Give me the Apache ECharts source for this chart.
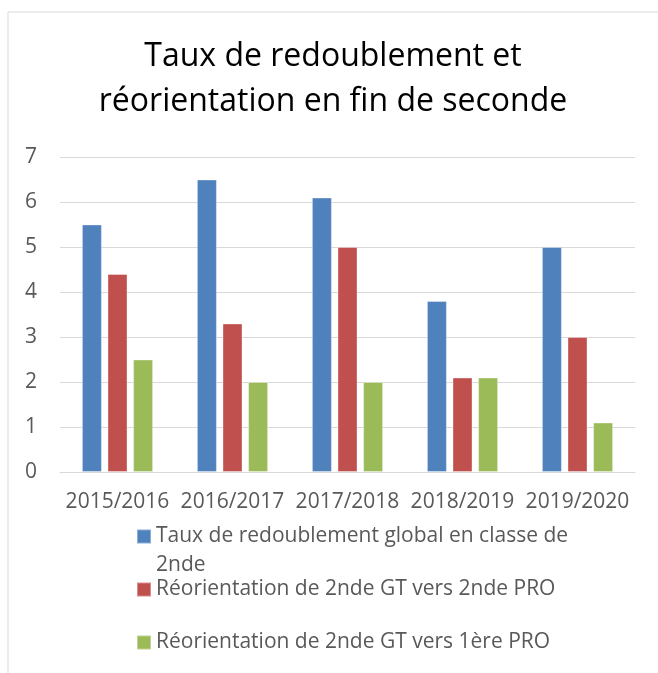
<!DOCTYPE html>
<html>
<head>
<meta charset="utf-8">
<script src="https://cdn.jsdelivr.net/npm/echarts@6/dist/echarts.min.js"></script>
<style>
  html, body { margin: 0; padding: 0; background: #fff; }
  #chart { width: 658px; height: 673px; }
</style>
</head>
<body>
<div id="chart"></div>
<script>
var years = ['2015/2016', '2016/2017', '2017/2018', '2018/2019', '2019/2020'];
var seriesNames = [
  'Taux de redoublement global en classe de 2nde',
  'Réorientation de 2nde GT vers 2nde PRO',
  'Réorientation de 2nde GT vers 1ère PRO'
];
var redoublement = [5.5, 6.5, 6.1, 3.8, 5.0];
var versSecondePro = [4.4, 3.3, 5.0, 2.1, 3.0];
var versPremierePro = [2.5, 2.0, 2.0, 2.1, 1.1];
var colors = ['#4F81BD', '#C0504D', '#9BBB59'];

// legend text as Excel wraps it (blank first line keeps the square on the first line)
var legendLabels = {};
legendLabels[seriesNames[0]] = '\nTaux de redoublement global en classe de\n2nde';
legendLabels[seriesNames[1]] = '\nRéorientation de 2nde GT vers 2nde PRO\n';
legendLabels[seriesNames[2]] = '\nRéorientation de 2nde GT vers 1ère PRO\n';

var font = '"Open Sans", "Noto Sans", sans-serif';

function makeSeries(name, data, color) {
  return {
    name: name,
    type: 'bar',
    data: data,
    barWidth: 20,
    barGap: '28%',
    itemStyle: { color: color, borderColor: 'rgba(255,255,255,0.35)', borderWidth: 1 }
  };
}

var chart = echarts.init(document.getElementById('chart'));
chart.setOption({
  animation: false,
  textStyle: { fontFamily: font },
  graphic: [{
    type: 'rect',
    shape: { x: 8, y: 12, width: 720, height: 720 },
    style: { fill: 'none', stroke: '#d9d9d9', lineWidth: 1 },
    silent: true
  }],
  title: {
    text: 'Taux de redoublement et\nréorientation en fin de seconde',
    left: 333,
    textAlign: 'center',
    top: 34,
    padding: 0,
    textStyle: { fontFamily: font, fontSize: 32, fontWeight: 'normal', color: '#000', lineHeight: 45 }
  },
  legend: {
    orient: 'vertical',
    left: 136,
    top: 493,
    height: 300,
    padding: 0,
    itemGap: -34,
    itemWidth: 14,
    itemHeight: 14,
    icon: 'rect',
    data: seriesNames,
    formatter: function (name) { return legendLabels[name]; },
    textStyle: { fontFamily: font, fontSize: 21, color: '#595959', lineHeight: 29 }
  },
  grid: { left: 60, right: 23, top: 157, bottom: 201, containLabel: false },
  xAxis: {
    type: 'category',
    data: years,
    axisTick: { show: false },
    axisLine: { lineStyle: { color: '#d9d9d9', width: 1 } },
    axisLabel: { interval: 0, hideOverlap: false, fontFamily: font, fontSize: 21, color: '#595959', margin: 20 }
  },
  yAxis: {
    type: 'value',
    min: 0,
    max: 7,
    interval: 1,
    axisLine: { show: false },
    axisTick: { show: false },
    splitLine: { lineStyle: { color: '#d9d9d9', width: 1 } },
    axisLabel: { fontFamily: font, fontSize: 21, color: '#595959', margin: 23 }
  },
  series: [
    makeSeries(seriesNames[0], redoublement, colors[0]),
    makeSeries(seriesNames[1], versSecondePro, colors[1]),
    makeSeries(seriesNames[2], versPremierePro, colors[2])
  ]
});
</script>
</body>
</html>
